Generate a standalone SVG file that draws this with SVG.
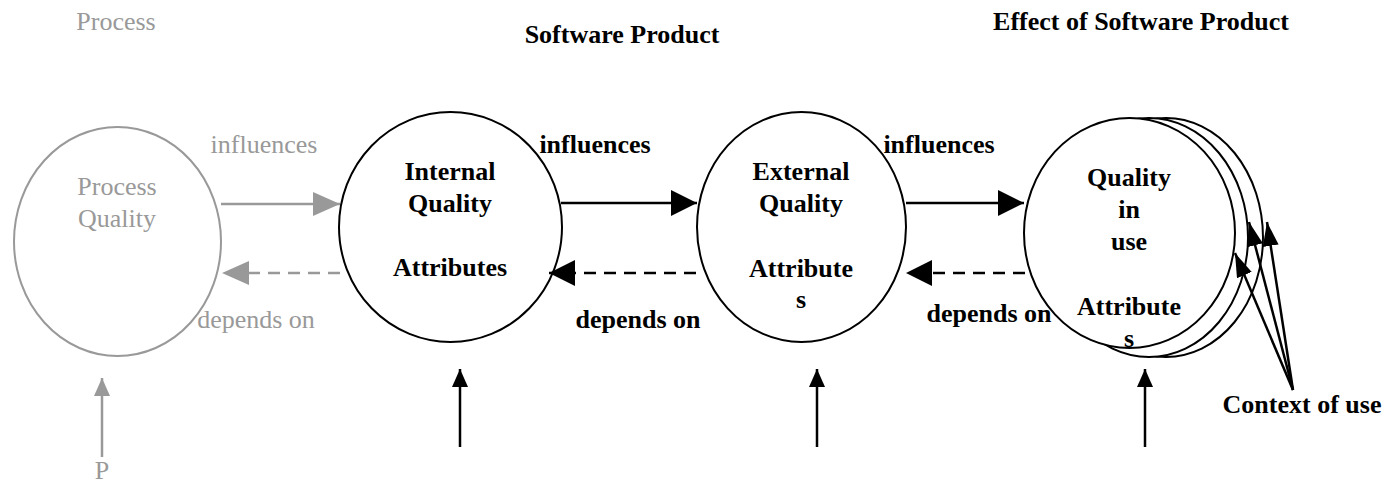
<svg xmlns="http://www.w3.org/2000/svg" width="1387" height="484" viewBox="0 0 1387 484">
<style>
text{font-family:"Liberation Serif","DejaVu Serif","Times New Roman",serif;font-size:26px;text-anchor:middle}
.b{font-weight:bold;fill:#000}
.g{fill:#999}
.ck{fill:#fff;stroke:#000;stroke-width:2}
.cg{fill:#fff;stroke:#999;stroke-width:2}
.lk{stroke:#000;stroke-width:2.5;fill:none}
.lg{stroke:#999;stroke-width:2.5;fill:none}
.d{stroke-dasharray:12 8}
</style>
<defs>
<marker id="hk" markerUnits="userSpaceOnUse" markerWidth="28" markerHeight="28" refX="26" refY="13" orient="auto"><path d="M0,0L26,13L0,26Z" fill="#000"/></marker>
<marker id="hg" markerUnits="userSpaceOnUse" markerWidth="28" markerHeight="26" refX="27" refY="12" orient="auto"><path d="M0,0L27,12L0,24Z" fill="#999"/></marker>
<marker id="sk" markerUnits="userSpaceOnUse" markerWidth="20" markerHeight="18" refX="18" refY="8" orient="auto"><path d="M0,0L18,8L0,16Z" fill="#000"/></marker>
<marker id="sg" markerUnits="userSpaceOnUse" markerWidth="20" markerHeight="18" refX="18" refY="8" orient="auto"><path d="M0,0L18,8L0,16Z" fill="#999"/></marker>
<marker id="ck" markerUnits="userSpaceOnUse" markerWidth="26" markerHeight="18" refX="24" refY="8" orient="auto"><path d="M0,0L24,8L0,16Z" fill="#000"/></marker>
</defs>

<text class="g" x="116" y="30" font-family="Liberation Serif, serif">Process</text>
<text class="b" x="622" y="43" font-family="Liberation Serif, serif">Software Product</text>
<text class="b" x="1141" y="30" font-family="Liberation Serif, serif">Effect of Software Product</text>

<g id="process-quality">
<ellipse class="cg" cx="117.5" cy="241.5" rx="103.5" ry="114.5"/>
<text class="g" x="117" y="195" font-family="Liberation Serif, serif">Process</text>
<text class="g" x="117" y="227" font-family="Liberation Serif, serif">Quality</text>
</g>

<g id="internal-quality">
<ellipse class="ck" cx="450.5" cy="227" rx="111.5" ry="115"/>
<text class="b" x="450" y="180" font-family="Liberation Serif, serif">Internal</text>
<text class="b" x="450" y="212" font-family="Liberation Serif, serif">Quality</text>
<text class="b" x="450" y="276" font-family="Liberation Serif, serif">Attributes</text>
</g>

<g id="external-quality">
<ellipse class="ck" cx="801.5" cy="227" rx="104.5" ry="115"/>
<text class="b" x="801" y="180" font-family="Liberation Serif, serif">External</text>
<text class="b" x="801" y="212" font-family="Liberation Serif, serif">Quality</text>
<text class="b" x="801" y="277" font-family="Liberation Serif, serif">Attribute</text>
<text class="b" x="801" y="308" font-family="Liberation Serif, serif">s</text>
</g>

<g id="quality-in-use">
<ellipse class="ck" cx="1166" cy="237.5" rx="97" ry="119.5"/>
<ellipse class="ck" cx="1149" cy="237.5" rx="99" ry="119.5"/>
<ellipse class="ck" cx="1129.5" cy="233" rx="105.5" ry="115"/>
<text class="b" x="1129" y="186" font-family="Liberation Serif, serif">Quality</text>
<text class="b" x="1129" y="218" font-family="Liberation Serif, serif">in</text>
<text class="b" x="1129" y="250" font-family="Liberation Serif, serif">use</text>
<text class="b" x="1129" y="315" font-family="Liberation Serif, serif">Attribute</text>
<text class="b" x="1129" y="347" font-family="Liberation Serif, serif">s</text>
</g>

<g id="connectors">
<line class="lg" x1="221" y1="204" x2="340" y2="204" marker-end="url(#hg)"/>
<line class="lg d" x1="340" y1="273" x2="222" y2="273" marker-end="url(#hg)"/>
<line class="lg" x1="102" y1="457" x2="102" y2="378" marker-end="url(#sg)"/>

<line class="lk" x1="561" y1="203" x2="697" y2="203" marker-end="url(#hk)"/>
<line class="lk d" x1="696" y1="273" x2="549" y2="273" marker-end="url(#hk)"/>
<line class="lk" x1="906" y1="203" x2="1024" y2="203" marker-end="url(#hk)"/>
<line class="lk d" x1="1025" y1="273" x2="906" y2="273" marker-end="url(#hk)"/>

<line class="lk" x1="460" y1="447" x2="460" y2="369" marker-end="url(#sk)"/>
<line class="lk" x1="817" y1="447" x2="817" y2="369" marker-end="url(#sk)"/>
<line class="lk" x1="1145" y1="447" x2="1145" y2="369" marker-end="url(#sk)"/>

<line class="lk" x1="1293" y1="390" x2="1235" y2="253" marker-end="url(#ck)"/>
<line class="lk" x1="1293" y1="390" x2="1249" y2="222" marker-end="url(#ck)"/>
<line class="lk" x1="1293" y1="390" x2="1267" y2="222" marker-end="url(#ck)"/>
</g>

<text class="g" x="264" y="153" font-family="Liberation Serif, serif">influences</text>
<text class="g" x="256" y="328" font-family="Liberation Serif, serif">depends on</text>
<text class="g" x="102" y="479" font-family="Liberation Serif, serif">P</text>
<text class="b" x="595" y="153" font-family="Liberation Serif, serif">influences</text>
<text class="b" x="638" y="328" font-family="Liberation Serif, serif">depends on</text>
<text class="b" x="939" y="153" font-family="Liberation Serif, serif">influences</text>
<text class="b" x="989" y="322" font-family="Liberation Serif, serif">depends on</text>
<text class="b" x="1302" y="413" font-family="Liberation Serif, serif">Context of use</text>
</svg>
